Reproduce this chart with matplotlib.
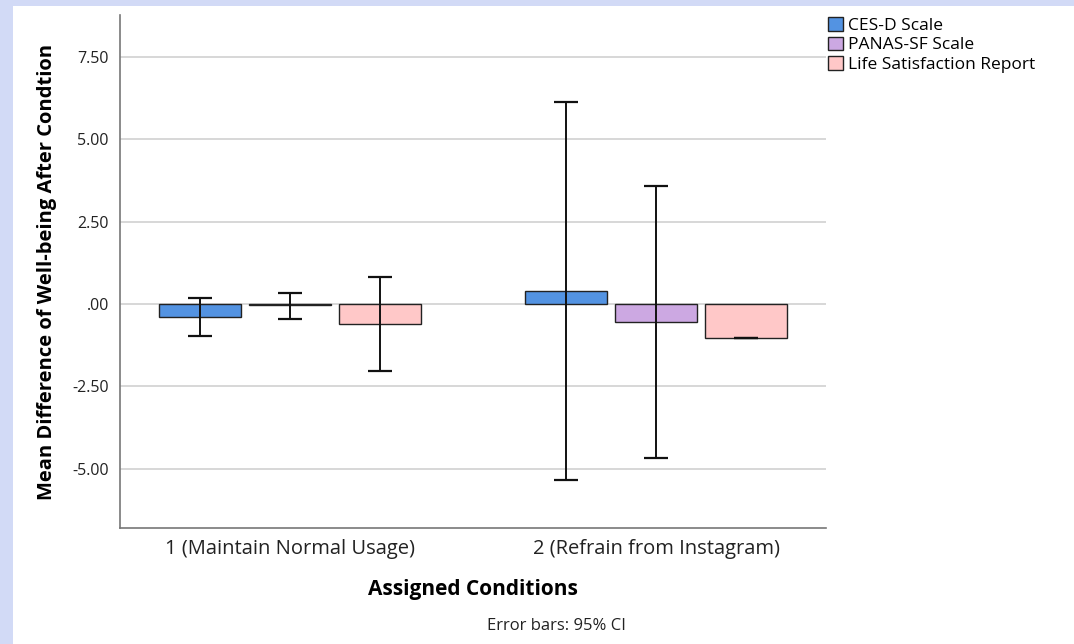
import numpy as np
import matplotlib
matplotlib.use('Agg')
import matplotlib.pyplot as plt
from matplotlib.patches import Rectangle

# data
conditions = ['1 (Maintain Normal Usage)', '2 (Refrain from Instagram)']
scales = ['CES-D Scale', 'PANAS-SF Scale', 'Life Satisfaction Report']
means = {
    'CES-D Scale': [-0.38, 0.38],
    'PANAS-SF Scale': [-0.03, -0.55],
    'Life Satisfaction Report': [-0.61, -1.02],
}
ci_low = {
    'CES-D Scale': [-0.97, -5.33],
    'PANAS-SF Scale': [-0.46, -4.67],
    'Life Satisfaction Report': [-2.03, -1.02],
}
ci_high = {
    'CES-D Scale': [0.19, 6.12],
    'PANAS-SF Scale': [0.32, 3.58],
    'Life Satisfaction Report': [0.81, -1.02],
}
colors = ['#5393E2', '#CCA8E2', '#FFC8C8']
yticks = [-5.0, -2.5, 0.0, 2.5, 5.0, 7.5]
ytick_labels = ['-5.00', '-2.50', '.00', '2.50', '5.00', '7.50']

plt.rcParams['font.family'] = ['Open Sans', 'DejaVu Sans']

fig = plt.figure(figsize=(10.74, 6.44), dpi=100, facecolor='#D2DAF6')
# white page area with blue border at top and left
fig.patches.append(Rectangle((13 / 1074, 0), 1, 1 - 6 / 644, transform=fig.transFigure,
                             facecolor='white', edgecolor='none', zorder=-1))

ax = fig.add_axes([120 / 1074, 1 - 528 / 644, 706 / 1074, 513 / 644])
ax.set_facecolor('white')

x = np.arange(len(conditions))
width = 0.224
offsets = [-0.246, 0, 0.246]
for i, s in enumerate(scales):
    m = np.array(means[s])
    lo = m - np.array(ci_low[s])
    hi = np.array(ci_high[s]) - m
    ax.bar(x + offsets[i], m, width, color=colors[i], edgecolor='#222222',
           linewidth=1.0, label=s, zorder=3)
    ax.errorbar(x + offsets[i], m, yerr=[lo, hi], fmt='none', ecolor='#111111',
                elinewidth=1.4, capsize=8.3, capthick=1.6, zorder=4)

ax.set_xlim(-0.464, 1.464)
ax.set_ylim(-6.79, 8.76)
ax.set_yticks(yticks)
ax.set_yticklabels(ytick_labels, fontsize=11.5)
ax.set_xticks(x)
ax.set_xticklabels(conditions, fontsize=14.5)
ax.tick_params(axis='both', length=0, colors='#222222')
ax.tick_params(axis='y', pad=8)
ax.tick_params(axis='x', pad=8)
ax.yaxis.grid(True, color='#d4d4d4', linewidth=1.3, zorder=0)
ax.set_axisbelow(True)
for side in ['top', 'right']:
    ax.spines[side].set_visible(False)
for side in ['left', 'bottom']:
    ax.spines[side].set_color('#777777')
    ax.spines[side].set_linewidth(1.2)

ax.set_ylabel('Mean Difference of Well-being After Condtion', fontsize=14.5,
              fontweight='bold', labelpad=11)
ax.set_xlabel('Assigned Conditions', fontsize=15, fontweight='bold', labelpad=14)

fig.legend(loc='upper left', bbox_to_anchor=(828 / 1074, 1 - 17 / 644), frameon=False,
           fontsize=12.5, handlelength=0.85, handleheight=0.85, handletextpad=0.3,
           labelspacing=0.15, borderpad=0, borderaxespad=0)

fig.text(556 / 1074, 1 - 626 / 644, 'Error bars: 95% CI', ha='center', va='center',
         fontsize=12, color='#222222')

fig.savefig('out.png', dpi=100, facecolor=fig.get_facecolor())
